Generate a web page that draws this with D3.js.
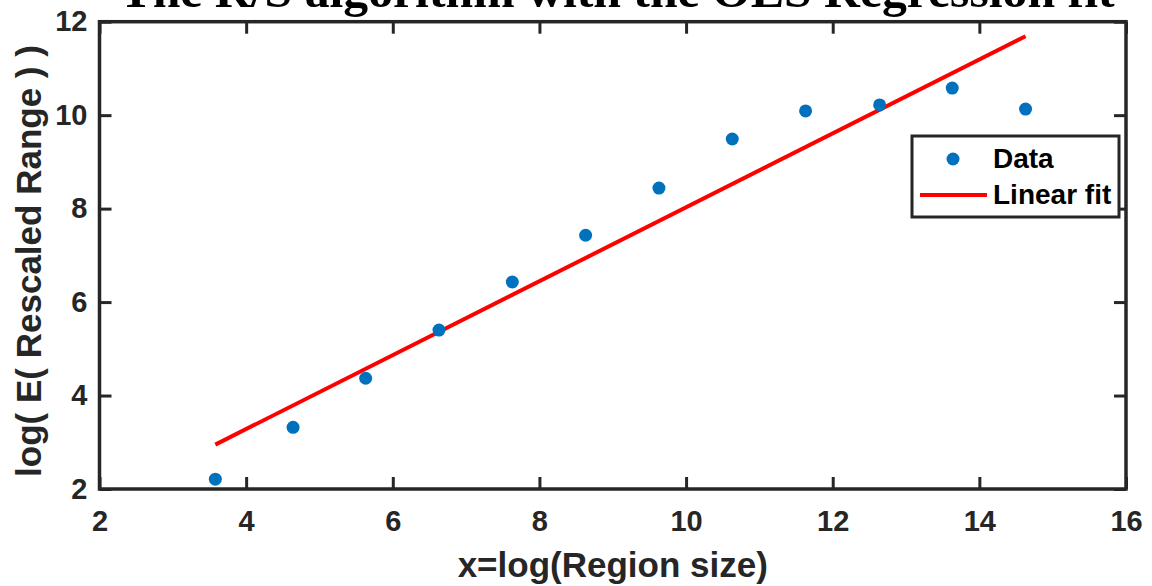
<!DOCTYPE html>
<html>
<head>
<meta charset="utf-8">
<script src="https://cdn.jsdelivr.net/npm/d3@7"></script>
<style>
  html, body { margin: 0; padding: 0; background: #fff; }
  svg { display: block; }
  .tick text { font-family: "Liberation Sans", Arial, sans-serif; font-weight: bold; font-size: 29px; fill: #262626; }
</style>
</head>
<body>
<svg id="chart" width="1152" height="586"></svg>
<script>
// R/S analysis: log of expected rescaled range against log of region size
const regionLogSize = [3.58, 4.64, 5.63, 6.63, 7.63, 8.63, 9.63, 10.63, 11.63, 12.64, 13.63, 14.63];
const rescaledLogRange = [2.21, 3.32, 4.37, 5.40, 6.43, 7.43, 8.44, 9.49, 10.09, 10.22, 10.58, 10.13];

// OLS regression line endpoints
const fitX = [3.58, 14.63];
const fitY = [2.95, 11.69];

const xTicks = [2, 4, 6, 8, 10, 12, 14, 16];
const yTicks = [2, 4, 6, 8, 10, 12];
const xDomain = [2, 16];
const yDomain = [2, 12];

const titleText = "The R/S algorithm with the OLS Regression fit";
const xLabel = "x=log(Region size)";
const yLabel = "log( E( Rescaled Range ) )";
const legendLabels = ["Data", "Linear fit"];

const axisColor = "#262626";
const dataColor = "#0072BD";
const fitColor = "#FF0000";

const svg = d3.select("#chart");
const plot = { left: 99.5, right: 1126, top: 21.7, bottom: 489 };

const x = d3.scaleLinear().domain(xDomain).range([plot.left, plot.right]);
const y = d3.scaleLinear().domain(yDomain).range([plot.bottom, plot.top]);

// Axes with inward ticks on all four sides
const tickLen = 12;
function styleAxis(g) {
  g.selectAll(".domain").remove();
  g.selectAll(".tick line").attr("stroke", axisColor).attr("stroke-width", 3);
}

svg.append("g")
  .attr("transform", `translate(0,${plot.bottom})`)
  .call(d3.axisBottom(x).tickValues(xTicks).tickSize(-tickLen).tickPadding(21).tickFormat(d3.format("d")))
  .call(styleAxis);

svg.append("g")
  .attr("transform", `translate(0,${plot.top})`)
  .call(d3.axisTop(x).tickValues(xTicks).tickSize(-tickLen).tickFormat(""))
  .call(styleAxis);

svg.append("g")
  .attr("transform", `translate(${plot.left},0)`)
  .call(d3.axisLeft(y).tickValues(yTicks).tickSize(-tickLen).tickPadding(12).tickFormat(d3.format("d")))
  .call(styleAxis);

svg.append("g")
  .attr("transform", `translate(${plot.right},0)`)
  .call(d3.axisRight(y).tickValues(yTicks).tickSize(-tickLen).tickFormat(""))
  .call(styleAxis);

// Plot box
svg.append("rect")
  .attr("x", plot.left).attr("y", plot.top)
  .attr("width", plot.right - plot.left).attr("height", plot.bottom - plot.top)
  .attr("fill", "none").attr("stroke", axisColor).attr("stroke-width", 3.5);

// Fitted line
const line = d3.line().x(d => x(d[0])).y(d => y(d[1]));
svg.append("path")
  .datum(d3.zip(fitX, fitY))
  .attr("d", line)
  .attr("fill", "none").attr("stroke", fitColor).attr("stroke-width", 4);

// Data points
svg.append("g").selectAll("circle")
  .data(d3.zip(regionLogSize, rescaledLogRange))
  .join("circle")
  .attr("cx", d => x(d[0])).attr("cy", d => y(d[1]))
  .attr("r", 6.5).attr("fill", dataColor);

// Title
svg.append("text")
  .attr("x", 617).attr("y", 7)
  .attr("text-anchor", "middle")
  .attr("font-family", "'Liberation Serif', 'Times New Roman', serif")
  .attr("font-weight", "bold").attr("font-size", 48)
  .attr("textLength", 995).attr("lengthAdjust", "spacingAndGlyphs")
  .attr("fill", "#000")
  .text(titleText);

// Axis labels
svg.append("text")
  .attr("x", (plot.left + plot.right) / 2).attr("y", 577)
  .attr("text-anchor", "middle")
  .attr("font-family", "'Liberation Sans', Arial, sans-serif")
  .attr("font-weight", "bold").attr("font-size", 35)
  .attr("fill", axisColor)
  .text(xLabel);

svg.append("text")
  .attr("transform", `translate(41,261) rotate(-90)`)
  .attr("text-anchor", "middle")
  .attr("font-family", "'Liberation Sans', Arial, sans-serif")
  .attr("font-weight", "bold").attr("font-size", 35)
  .attr("fill", axisColor)
  .text(yLabel);

// Legend
const legend = svg.append("g");
legend.append("rect")
  .attr("x", 912).attr("y", 136).attr("width", 207).attr("height", 81)
  .attr("fill", "#fff").attr("stroke", axisColor).attr("stroke-width", 3);
legend.append("circle")
  .attr("cx", 953).attr("cy", 159).attr("r", 6.5).attr("fill", dataColor);
legend.append("line")
  .attr("x1", 920).attr("x2", 987).attr("y1", 195).attr("y2", 195)
  .attr("stroke", fitColor).attr("stroke-width", 4);
legend.selectAll("text.lbl")
  .data(legendLabels)
  .join("text")
  .attr("class", "lbl")
  .attr("x", 993).attr("y", (d, i) => 168 + i * 36)
  .attr("font-family", "'Liberation Sans', Arial, sans-serif")
  .attr("font-weight", "bold").attr("font-size", 28)
  .attr("fill", "#000")
  .text(d => d);
</script>
</body>
</html>
